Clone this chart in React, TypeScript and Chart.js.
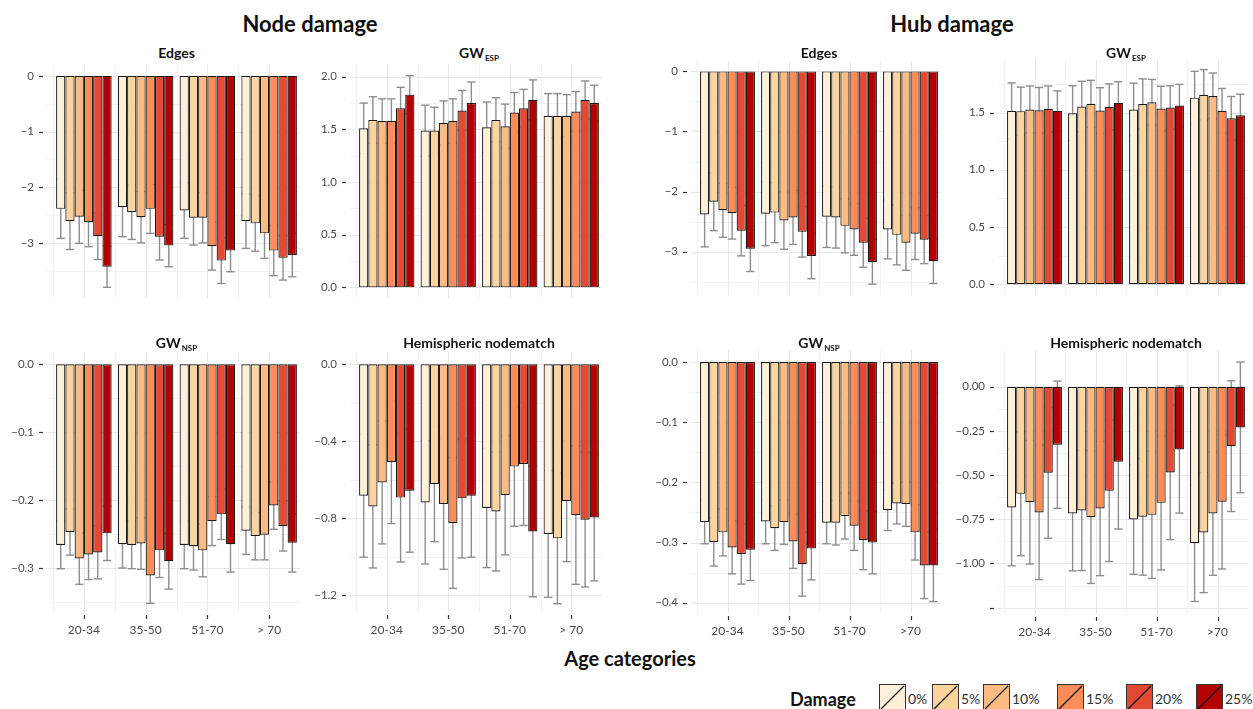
import React, { useEffect, useRef } from "react";
import { Chart, registerables } from "chart.js";
Chart.register(...registerables);

const FONT = "Lato, 'Open Sans', sans-serif";

const damageLevels = ["0%", "5%", "10%", "15%", "20%", "25%"];
const damageColors = ["#fef0d9", "#fdd49e", "#fdbb84", "#fc8d59", "#e34a33", "#b30000"];
const ageNode = ["20-34", "35-50", "51-70", "> 70"];
const ageHub = ["20-34", "35-50", "51-70", ">70"];

// Node damage — Edges (rows = damage level, columns = age category)
const nodeEdgesMean = [
  [-2.39, -2.36, -2.42, -2.61],
  [-2.61, -2.45, -2.55, -2.65],
  [-2.53, -2.54, -2.55, -2.83],
  [-2.63, -2.39, -3.06, -3.14],
  [-2.88, -2.89, -3.32, -3.27],
  [-3.43, -3.05, -3.14, -3.22],
];
const nodeEdgesSd = [
  [0.53, 0.53, 0.5, 0.49],
  [0.51, 0.49, 0.49, 0.5],
  [0.48, 0.46, 0.45, 0.45],
  [0.44, 0.44, 0.43, 0.45],
  [0.42, 0.42, 0.41, 0.4],
  [0.37, 0.38, 0.38, 0.39],
];
// Node damage — GW ESP
const nodeEspMean = [
  [1.51, 1.49, 1.52, 1.63],
  [1.59, 1.49, 1.59, 1.63],
  [1.58, 1.56, 1.53, 1.63],
  [1.58, 1.58, 1.66, 1.67],
  [1.7, 1.68, 1.7, 1.78],
  [1.83, 1.75, 1.78, 1.75],
];
const nodeEspSd = [
  [0.24, 0.24, 0.24, 0.21],
  [0.22, 0.22, 0.21, 0.21],
  [0.21, 0.21, 0.21, 0.2],
  [0.21, 0.21, 0.19, 0.19],
  [0.2, 0.19, 0.18, 0.18],
  [0.18, 0.2, 0.19, 0.17],
];
// Node damage — GW NSP
const nodeNspMean = [
  [-0.266, -0.265, -0.266, -0.245],
  [-0.247, -0.266, -0.268, -0.253],
  [-0.286, -0.264, -0.274, -0.251],
  [-0.28, -0.311, -0.231, -0.208],
  [-0.277, -0.274, -0.221, -0.238],
  [-0.249, -0.29, -0.265, -0.263],
];
const nodeNspSd = [
  [0.035, 0.035, 0.035, 0.035],
  [0.034, 0.035, 0.035, 0.035],
  [0.038, 0.038, 0.039, 0.037],
  [0.037, 0.041, 0.036, 0.035],
  [0.039, 0.04, 0.037, 0.037],
  [0.04, 0.041, 0.041, 0.043],
];
// Node damage — Hemispheric nodematch
const nodeHemiMean = [
  [-0.683, -0.718, -0.747, -0.882],
  [-0.739, -0.622, -0.765, -0.905],
  [-0.614, -0.726, -0.681, -0.711],
  [-0.508, -0.825, -0.532, -0.784],
  [-0.693, -0.697, -0.518, -0.808],
  [-0.657, -0.683, -0.869, -0.796],
];
const nodeHemiSd = [
  [0.32, 0.32, 0.31, 0.33],
  [0.32, 0.3, 0.31, 0.34],
  [0.32, 0.34, 0.31, 0.315],
  [0.32, 0.34, 0.31, 0.36],
  [0.335, 0.31, 0.32, 0.35],
  [0.32, 0.32, 0.34, 0.33],
];
// Hub damage — Edges
const hubEdgesMean = [
  [-2.38, -2.37, -2.42, -2.63],
  [-2.17, -2.35, -2.43, -2.72],
  [-2.31, -2.48, -2.57, -2.85],
  [-2.36, -2.43, -2.63, -2.7],
  [-2.65, -2.67, -2.85, -2.8],
  [-2.95, -3.07, -3.17, -3.16],
];
const hubEdgesSd = [
  [0.54, 0.53, 0.51, 0.49],
  [0.48, 0.5, 0.51, 0.5],
  [0.45, 0.48, 0.45, 0.46],
  [0.43, 0.45, 0.43, 0.43],
  [0.42, 0.42, 0.41, 0.4],
  [0.38, 0.38, 0.37, 0.37],
];
// Hub damage — GW ESP
const hubEspMean = [
  [1.514, 1.494, 1.527, 1.63],
  [1.512, 1.553, 1.574, 1.655],
  [1.527, 1.576, 1.589, 1.645],
  [1.519, 1.517, 1.535, 1.515],
  [1.532, 1.55, 1.543, 1.45],
  [1.514, 1.584, 1.561, 1.475],
];
const hubEspSd = [
  [0.245, 0.24, 0.23, 0.23],
  [0.21, 0.22, 0.22, 0.22],
  [0.205, 0.205, 0.2, 0.2],
  [0.2, 0.2, 0.195, 0.195],
  [0.2, 0.2, 0.19, 0.19],
  [0.175, 0.185, 0.185, 0.185],
];
// Hub damage — GW NSP
const hubNspMean = [
  [-0.266, -0.265, -0.267, -0.246],
  [-0.299, -0.276, -0.267, -0.235],
  [-0.283, -0.266, -0.256, -0.236],
  [-0.308, -0.298, -0.272, -0.283],
  [-0.319, -0.336, -0.296, -0.338],
  [-0.312, -0.31, -0.3, -0.338],
];
const hubNspSd = [
  [0.036, 0.037, 0.035, 0.034],
  [0.04, 0.037, 0.037, 0.034],
  [0.039, 0.037, 0.038, 0.037],
  [0.044, 0.045, 0.041, 0.046],
  [0.05, 0.053, 0.049, 0.055],
  [0.051, 0.052, 0.052, 0.06],
];
// Hub damage — Hemispheric nodematch
const hubHemiMean = [
  [-0.683, -0.717, -0.751, -0.885],
  [-0.606, -0.7, -0.736, -0.825],
  [-0.653, -0.738, -0.725, -0.717],
  [-0.711, -0.689, -0.657, -0.651],
  [-0.487, -0.589, -0.485, -0.336],
  [-0.328, -0.425, -0.355, -0.23],
];
const hubHemiSd = [
  [0.33, 0.325, 0.31, 0.33],
  [0.35, 0.34, 0.33, 0.34],
  [0.35, 0.375, 0.36, 0.35],
  [0.38, 0.38, 0.38, 0.38],
  [0.37, 0.4, 0.38, 0.37],
  [0.36, 0.38, 0.36, 0.37],
];

// Tick values and labels
const edgesTicks = [0, -1, -2, -3];
const edgesTickLabels = ["0", "−1", "−2", "−3"];
const edgesMinor = [-0.5, -1.5, -2.5, -3.5];
const espNodeTicks = [0, 0.5, 1, 1.5, 2];
const espNodeTickLabels = ["0.0", "0.5", "1.0", "1.5", "2.0"];
const espHubTicks = [0, 0.5, 1, 1.5];
const espHubTickLabels = ["0.0", "0.5", "1.0", "1.5"];
const espMinor = [0.25, 0.75, 1.25, 1.75];
const nspNodeTicks = [0, -0.1, -0.2, -0.3];
const nspNodeTickLabels = ["0.0", "−0.1", "−0.2", "−0.3"];
const nspHubTicks = [0, -0.1, -0.2, -0.3, -0.4];
const nspHubTickLabels = ["0.0", "−0.1", "−0.2", "−0.3", "−0.4"];
const nspMinor = [-0.05, -0.15, -0.25, -0.35];
const hemiNodeTicks = [0, -0.4, -0.8, -1.2];
const hemiNodeTickLabels = ["0.0", "−0.4", "−0.8", "−1.2"];
const hemiNodeMinor = [-0.2, -0.6, -1.0];
const hemiHubTicks = [0, -0.25, -0.5, -0.75, -1.0, -1.25];
const hemiHubTickLabels = ["0.00", "−0.25", "−0.50", "−0.75", "−1.00", ""];
const hemiHubMinor = [-0.125, -0.375, -0.625, -0.875, -1.125];

const YW = 50;
const XH = 30;

type Spec = {
  key: string;
  mean: number[][];
  sd: number[][];
  ages: string[];
  ticks: number[];
  labels: string[];
  minor: number[];
  min: number;
  max: number;
  box: { l: number; r: number; t: number; b: number };
  bottom: boolean;
  title: React.ReactNode;
};

const sub = (main: string, s: string) => (
  <span>
    {main}
    <span style={{ fontSize: 8, position: "relative", top: 3, marginLeft: 1 }}>{s}</span>
  </span>
);

const specs: Spec[] = [
  { key: "ne", mean: nodeEdgesMean, sd: nodeEdgesSd, ages: ageNode, ticks: edgesTicks, labels: edgesTickLabels, minor: edgesMinor, min: -3.992, max: 0.196, box: { l: 53, r: 300, t: 65, b: 328 }, bottom: false, title: "Edges" },
  { key: "nesp", mean: nodeEspMean, sd: nodeEspSd, ages: ageNode, ticks: espNodeTicks, labels: espNodeTickLabels, minor: espMinor, min: -0.101, max: 2.121, box: { l: 356, r: 602, t: 64, b: 328 }, bottom: false, title: sub("GW", "ESP") },
  { key: "nnsp", mean: nodeNspMean, sd: nodeNspSd, ages: ageNode, ticks: nspNodeTicks, labels: nspNodeTickLabels, minor: nspMinor, min: -0.3648, max: 0.0181, box: { l: 53, r: 300, t: 352, b: 612 }, bottom: true, title: sub("GW", "NSP") },
  { key: "nhemi", mean: nodeHemiMean, sd: nodeHemiSd, ages: ageNode, ticks: hemiNodeTicks, labels: hemiNodeTickLabels, minor: hemiNodeMinor, min: -1.288, max: 0.064, box: { l: 356, r: 602, t: 352, b: 612 }, bottom: true, title: "Hemispheric nodematch" },
  { key: "he", mean: hubEdgesMean, sd: hubEdgesSd, ages: ageHub, ticks: edgesTicks, labels: edgesTickLabels, minor: edgesMinor, min: -3.721, max: 0.173, box: { l: 697, r: 941, t: 61, b: 325 }, bottom: false, title: "Edges" },
  { key: "hesp", mean: hubEspMean, sd: hubEspSd, ages: ageHub, ticks: espHubTicks, labels: espHubTickLabels, minor: espMinor, min: -0.095, max: 1.959, box: { l: 1004, r: 1248, t: 60, b: 325 }, bottom: false, title: sub("GW", "ESP") },
  { key: "hnsp", mean: hubNspMean, sd: hubNspSd, ages: ageHub, ticks: nspHubTicks, labels: nspHubTickLabels, minor: nspMinor, min: -0.417, max: 0.02, box: { l: 697, r: 941, t: 350, b: 613 }, bottom: true, title: sub("GW", "NSP") },
  { key: "hhemi", mean: hubHemiMean, sd: hubHemiSd, ages: ageHub, ticks: hemiHubTicks, labels: hemiHubTickLabels, minor: hemiHubMinor, min: -1.286, max: 0.208, box: { l: 1004, r: 1248, t: 350, b: 614 }, bottom: true, title: "Hemispheric nodematch" },
];

function makePlugin(spec: Spec) {
  return {
    id: "ggPanel",
    beforeDatasetsDraw(chart: any) {
      const { ctx, chartArea: ca } = chart;
      const x = chart.scales.x;
      const y = chart.scales.y;
      const n = spec.ages.length;
      const catW = (ca.right - ca.left) / n;
      const ext = catW * 0.1;
      const line = (x1: number, y1: number, x2: number, y2: number) => {
        ctx.beginPath();
        ctx.moveTo(x1, y1);
        ctx.lineTo(x2, y2);
        ctx.stroke();
      };
      ctx.save();
      // minor grid
      ctx.lineWidth = 1;
      ctx.strokeStyle = "#f2f2f2";
      for (const v of spec.minor) {
        const py = Math.round(y.getPixelForValue(v)) + 0.5;
        line(ca.left - ext, py, ca.right + ext, py);
      }
      for (let i = 0; i <= n; i++) {
        const px = Math.round(ca.left + i * catW) + 0.5;
        line(px, ca.top, px, ca.bottom);
      }
      // major grid
      ctx.strokeStyle = "#e8e8e8";
      for (const v of spec.ticks) {
        const py = Math.round(y.getPixelForValue(v)) + 0.5;
        line(ca.left - ext, py, ca.right + ext, py);
      }
      for (let i = 0; i < n; i++) {
        const px = Math.round(x.getPixelForValue(i)) + 0.5;
        line(px, ca.top, px, ca.bottom);
      }
      // tick marks
      ctx.strokeStyle = "#333333";
      ctx.lineWidth = 1.2;
      for (const v of spec.ticks) {
        const py = Math.round(y.getPixelForValue(v)) + 0.5;
        line(ca.left - 14, py, ca.left - 10, py);
      }
      if (spec.bottom) {
        for (let i = 0; i < n; i++) {
          const px = Math.round(x.getPixelForValue(i)) + 0.5;
          line(px, ca.bottom + 3, px, ca.bottom + 7);
        }
      }
      // error bars (mean ± sd), drawn behind bars
      ctx.strokeStyle = "#8e8e8e";
      ctx.lineWidth = 1.4;
      chart.data.datasets.forEach((_ds: any, di: number) => {
        const meta = chart.getDatasetMeta(di);
        meta.data.forEach((bar: any, j: number) => {
          const m = spec.mean[di][j];
          const s = spec.sd[di][j];
          const y1 = y.getPixelForValue(m + s);
          const y2 = y.getPixelForValue(m - s);
          const hw = bar.width * 0.45;
          line(bar.x, y1, bar.x, y2);
          line(bar.x - hw, y1, bar.x + hw, y1);
          line(bar.x - hw, y2, bar.x + hw, y2);
        });
      });
      ctx.restore();
    },
  };
}

function Panel({ spec }: { spec: Spec }) {
  const ref = useRef<HTMLCanvasElement>(null);
  const w = spec.box.r - spec.box.l + YW;
  const h = spec.box.b - spec.box.t + (spec.bottom ? XH : 0);
  useEffect(() => {
    if (!ref.current) return;
    const chart = new Chart(ref.current, {
      type: "bar",
      data: {
        labels: spec.ages,
        datasets: damageLevels.map((lvl, i) => ({
          label: lvl,
          data: spec.mean[i],
          backgroundColor: damageColors[i],
          borderColor: "#1a1a1a",
          borderWidth: 1.2,
          borderSkipped: false,
          categoryPercentage: 0.9,
          barPercentage: 1.0,
        })),
      },
      options: {
        animation: false,
        responsive: false,
        devicePixelRatio: 1,
        layout: { padding: 0 },
        plugins: { legend: { display: false }, tooltip: { enabled: false }, title: { display: false } },
        scales: {
          x: {
            type: "category",
            offset: true,
            display: spec.bottom,
            grid: { display: false, drawTicks: false },
            border: { display: false },
            ticks: { font: { family: FONT, size: 12 }, color: "#4a4a4a", padding: 11, maxRotation: 0, autoSkip: false },
            afterFit: (scale: any) => {
              scale.height = XH;
              scale.paddingLeft = 0;
              scale.paddingRight = 0;
            },
          },
          y: {
            type: "linear",
            min: spec.min,
            max: spec.max,
            grid: { display: false, drawTicks: false },
            border: { display: false },
            ticks: {
              font: { family: FONT, size: 11.5 },
              color: "#4a4a4a",
              padding: 19,
              autoSkip: false,
              callback: (_v: any, idx: number) => spec.labels[idx],
            },
            afterBuildTicks: (scale: any) => {
              scale.ticks = spec.ticks.map((v) => ({ value: v }));
            },
            afterFit: (scale: any) => {
              scale.width = YW;
              scale.paddingTop = 0;
              scale.paddingBottom = 0;
            },
          },
        },
      },
      plugins: [makePlugin(spec)],
    } as any);
    return () => chart.destroy();
  }, []);
  return (
    <canvas
      ref={ref}
      width={w}
      height={h}
      style={{ position: "absolute", left: spec.box.l - YW, top: spec.box.t, width: w, height: h }}
    />
  );
}

const titleStyle: React.CSSProperties = {
  position: "absolute",
  fontFamily: FONT,
  fontWeight: 700,
  color: "#111",
  textAlign: "center",
  whiteSpace: "nowrap",
};

function PanelTitle({ spec }: { spec: Spec }) {
  const cx = (spec.box.l + spec.box.r) / 2;
  const cy = spec.bottom ? 343 : 53;
  return (
    <div style={{ ...titleStyle, left: cx - 150, width: 300, top: cy - 10, height: 20, lineHeight: "20px", fontSize: 14 }}>
      {spec.title}
    </div>
  );
}

const legendBoxLeft = [879, 932, 983, 1057, 1126, 1196];

export default function App() {
  return (
    <div style={{ position: "absolute", left: 0, top: 0, width: 1253, height: 709, overflow: "hidden", background: "#fff" }}>
      <div style={{ ...titleStyle, left: 160, width: 300, top: 10, height: 28, lineHeight: "28px", fontSize: 22 }}>Node damage</div>
      <div style={{ ...titleStyle, left: 802, width: 300, top: 10, height: 28, lineHeight: "28px", fontSize: 22 }}>Hub damage</div>
      {specs.map((s) => (
        <Panel key={s.key} spec={s} />
      ))}
      {specs.map((s) => (
        <PanelTitle key={"t" + s.key} spec={s} />
      ))}
      <div style={{ ...titleStyle, left: 480, width: 300, top: 645, height: 26, lineHeight: "26px", fontSize: 20 }}>Age categories</div>
      <div style={{ ...titleStyle, left: 790, top: 686, height: 26, lineHeight: "26px", fontSize: 18, textAlign: "left" }}>Damage</div>
      {damageLevels.map((lvl, i) => (
        <div key={lvl} style={{ position: "absolute", left: legendBoxLeft[i], top: 684, height: 30, display: "flex", alignItems: "flex-start" }}>
          <svg width={27} height={27} style={{ display: "block", flex: "none" }}>
            <rect x={0.5} y={0.5} width={26} height={26} fill={damageColors[i]} stroke="#333" strokeWidth={1} />
            <line x1={2} y1={25} x2={25} y2={2} stroke="#111" strokeWidth={1.3} />
          </svg>
          <span style={{ fontFamily: FONT, fontSize: 14, color: "#333", marginLeft: 2, lineHeight: "27px", marginTop: 1 }}>{lvl}</span>
        </div>
      ))}
    </div>
  );
}
